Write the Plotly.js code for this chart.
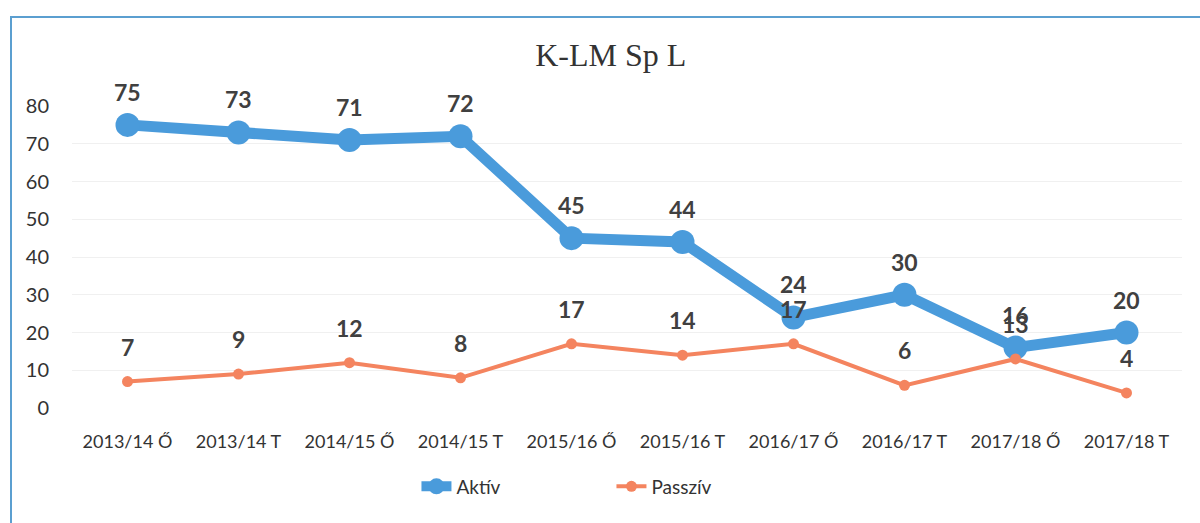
<!DOCTYPE html>
<html><head><meta charset="utf-8">
<script src="https://cdn.plot.ly/plotly-3.0.1.min.js"></script>
<style>
html,body{margin:0;padding:0;background:#fff;overflow:hidden;}
#frame{position:absolute;left:10px;top:16px;width:1200px;height:520px;border:2px solid #5b9fd0;box-sizing:border-box;pointer-events:none;z-index:5;}
#chart{position:absolute;left:0;top:0;width:1200px;height:523px;}
</style></head>
<body>
<div id="chart"></div><div id="frame"></div>
<script>
const categories = ["2013/14 Ő","2013/14 T","2014/15 Ő","2014/15 T","2015/16 Ő","2015/16 T","2016/17 Ő","2016/17 T","2017/18 Ő","2017/18 T"];
const aktiv = [75,73,71,72,45,44,24,30,16,20];
const passziv = [7,9,12,8,17,14,17,6,13,4];
const yTicks = [0,10,20,30,40,50,60,70,80];

const blue = '#4a9bdb';
const orange = '#f4845f';
const labelFont = {family:'Lato, "Open Sans", sans-serif', size:23, color:'#404040', weight:'bold'};

const traces = [
  {x:categories, y:aktiv, name:'Aktív', type:'scatter', mode:'lines+markers',
   line:{color:blue, width:11}, marker:{color:blue, size:24}},
  {x:categories, y:passziv, name:'Passzív', type:'scatter', mode:'lines+markers',
   line:{color:orange, width:4}, marker:{color:orange, size:11}}
];

const annotations = [];
categories.forEach((c,i)=>{
  annotations.push({x:c, y:aktiv[i], text:'<b>'+aktiv[i]+'</b>', showarrow:false, yshift:33, font:labelFont});
  annotations.push({x:c, y:passziv[i], text:'<b>'+passziv[i]+'</b>', showarrow:false, yshift:35, font:labelFont});
});

const layout = {
  width:1200, height:523,
  margin:{l:72, r:18, t:106, b:115},
  paper_bgcolor:'#fff', plot_bgcolor:'#fff',
  title:{text:'K-LM Sp L', font:{family:'"Liberation Serif", "DejaVu Serif", serif', size:32, color:'#333'}, x:0.509, xanchor:'center', y:0.895, yanchor:'middle'},
  xaxis:{type:'category', range:[-0.5, categories.length-0.5], showgrid:false, zeroline:false, showline:false, automargin:false,
    ticks:'outside', ticklen:17, tickcolor:'rgba(0,0,0,0)',
    tickfont:{family:'Lato, "Open Sans", sans-serif', size:18, color:'#333'}},
  yaxis:{range:[0,80], tickvals:yTicks, showgrid:true, gridcolor:'#f0f0f0', gridwidth:1, automargin:false,
    zeroline:false, showline:false, ticks:'outside', ticklen:18, tickcolor:'rgba(0,0,0,0)',
    tickfont:{family:'Lato, "Open Sans", sans-serif', size:20, color:'#333'}},
  showlegend:true,
  legend:{orientation:'h', x:0.486, xanchor:'center', y:-0.26, yanchor:'middle',
    font:{family:'Lato, "Open Sans", sans-serif', size:19, color:'#333'},
    entrywidth:150, entrywidthmode:'pixels'},
  annotations:annotations
};
Plotly.newPlot('chart', traces, layout, {displayModeBar:false, staticPlot:true});
</script>
</body></html>
